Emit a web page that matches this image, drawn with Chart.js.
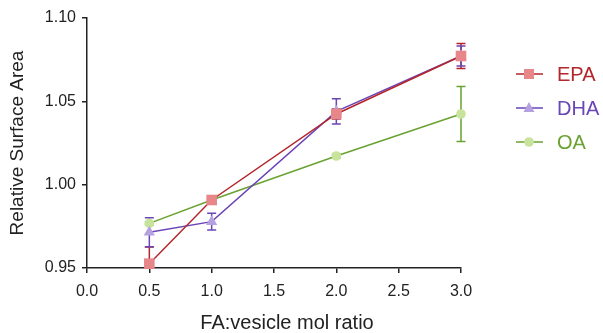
<!DOCTYPE html>
<html>
<head>
<meta charset="utf-8">
<script src="https://cdn.jsdelivr.net/npm/chart.js@4"></script>
<style>
  html, body { margin: 0; padding: 0; background: #fff; }
  #wrap { width: 603px; height: 333px; }
</style>
</head>
<body>
<div id="wrap"><canvas id="surfaceChart" width="603" height="333"></canvas></div>
<script>
// FA:vesicle ratios and measured relative surface area
const ratios = [0.5, 1.0, 2.0, 3.0];

const epaArea = [0.9526, 0.9908, 1.0424, 1.0772];
const epaErr  = [0.0100, 0.0010, 0.0030, 0.0075];

const dhaArea = [0.9714, 0.9778, 1.0440, 1.0772];
const dhaErr  = [0.0087, 0.0050, 0.0076, 0.0060];

const oaArea = [0.9768, 0.9908, 1.0172, 1.0424];
const oaErr  = [0.0010, 0.0010, 0.0010, 0.0165];

const seriesNames = ['EPA', 'DHA', 'OA'];
const xTitle = 'FA:vesicle mol ratio';

const font = "'Liberation Sans', Arial, sans-serif";
const axisColor = '#222';

function toPoints(ys) {
    return ratios.map((x, i) => ({ x: x, y: ys[i] }));
}

// vertical error bars drawn with the chart's own scales
const errorBars = {
    id: 'errorBars',
    beforeDatasetsDraw(chart) {
        const ctx = chart.ctx;
        const xs = chart.scales.x, ys = chart.scales.y;
        const area = chart.chartArea;
        ctx.save();
        ctx.beginPath();
        ctx.rect(area.left, area.top - 10, area.right - area.left + 10, area.bottom - area.top + 10);
        ctx.clip();
        chart.data.datasets.forEach(ds => {
            ctx.strokeStyle = ds.borderColor;
            ctx.lineWidth = 1.5;
            ds.data.forEach((p, i) => {
                const e = ds.errors[i];
                const px = xs.getPixelForValue(p.x);
                const top = ys.getPixelForValue(p.y + e);
                const bot = ys.getPixelForValue(p.y - e);
                ctx.beginPath();
                ctx.moveTo(px, top); ctx.lineTo(px, bot);
                ctx.moveTo(px - 4.5, top); ctx.lineTo(px + 4.5, top);
                ctx.moveTo(px - 4.5, bot); ctx.lineTo(px + 4.5, bot);
                ctx.stroke();
            });
        });
        ctx.restore();
    }
};

// legend with line + marker, plus the x title (sits a bit right of centre in the original)
const sideLegend = {
    id: 'sideLegend',
    afterDraw(chart) {
        const ctx = chart.ctx;
        const rows = [74, 108, 142];
        ctx.save();
        chart.data.datasets.forEach((ds, i) => {
            const y = rows[i];
            ctx.strokeStyle = ds.borderColor;
            ctx.lineWidth = 1.5;
            ctx.beginPath();
            ctx.moveTo(516, y); ctx.lineTo(543, y);
            ctx.stroke();
            ctx.fillStyle = ds.pointBackgroundColor;
            ctx.beginPath();
            if (ds.pointStyle === 'rect') {
                ctx.rect(529 - 5, y - 5, 10, 10);
            } else if (ds.pointStyle === 'triangle') {
                ctx.moveTo(529, y - 6); ctx.lineTo(534.5, y + 4); ctx.lineTo(523.5, y + 4); ctx.closePath();
            } else {
                ctx.arc(529, y, 4.8, 0, Math.PI * 2);
            }
            ctx.fill();
            ctx.fillStyle = ds.borderColor;
            ctx.font = '20px ' + font;
            ctx.textBaseline = 'middle';
            ctx.textAlign = 'left';
            ctx.fillText(ds.label, 557, y + 1);
        });

        ctx.fillStyle = axisColor;
        ctx.font = '20px ' + font;
        ctx.textAlign = 'center';
        ctx.textBaseline = 'alphabetic';
        ctx.fillText(xTitle, 287, 328.5);
        ctx.restore();
    }
};

const ctx = document.getElementById('surfaceChart').getContext('2d');

new Chart(ctx, {
    type: 'line',
    data: {
        datasets: [
            {
                label: seriesNames[0],
                data: toPoints(epaArea),
                errors: epaErr,
                borderColor: '#b3262b',
                pointBackgroundColor: '#e8878a',
                pointBorderWidth: 0,
                pointStyle: 'rect',
                pointRadius: 7.5,
                borderWidth: 1.5,
                clip: false
            },
            {
                label: seriesNames[1],
                data: toPoints(dhaArea),
                errors: dhaErr,
                borderColor: '#6a45b8',
                pointBackgroundColor: '#b5a0e0',
                pointBorderWidth: 0,
                pointStyle: 'triangle',
                pointRadius: 6.5,
                borderWidth: 1.5,
                clip: false
            },
            {
                label: seriesNames[2],
                data: toPoints(oaArea),
                errors: oaErr,
                borderColor: '#6aa232',
                pointBackgroundColor: '#c8e49c',
                pointBorderWidth: 0,
                pointStyle: 'circle',
                pointRadius: 4.8,
                borderWidth: 1.5,
                clip: false
            }
        ]
    },
    options: {
        responsive: false,
        animation: false,
        layout: { padding: { top: 18, right: 142, bottom: 0, left: 0 } },
        plugins: {
            legend: { display: false },
            tooltip: { enabled: false }
        },
        scales: {
            x: {
                type: 'linear',
                min: 0,
                max: 3,
                afterFit: s => { s.height = 65; },
                border: { display: true, color: axisColor, width: 1.5 },
                grid: { drawOnChartArea: false, drawTicks: true, tickLength: 5, color: axisColor, lineWidth: 1.5 },
                ticks: {
                    stepSize: 0.5,
                    padding: 9,
                    color: axisColor,
                    font: { family: font, size: 16 },
                    callback: v => v.toFixed(1)
                },
                title: { display: false }
            },
            y: {
                type: 'linear',
                min: 0.95,
                max: 1.10,
                afterFit: s => { s.width = 87; },
                border: { display: true, color: axisColor, width: 1.5 },
                grid: { drawOnChartArea: false, drawTicks: true, tickLength: 5, color: axisColor, lineWidth: 1.5 },
                ticks: {
                    stepSize: 0.05,
                    padding: 6,
                    color: axisColor,
                    font: { family: font, size: 16 },
                    callback: v => v.toFixed(2)
                },
                title: {
                    display: true,
                    text: 'Relative Surface Area',
                    color: axisColor,
                    font: { family: font, size: 19 },
                    padding: { top: 6, bottom: 0 }
                }
            }
        }
    },
    plugins: [errorBars, sideLegend]
});
</script>
</body>
</html>
